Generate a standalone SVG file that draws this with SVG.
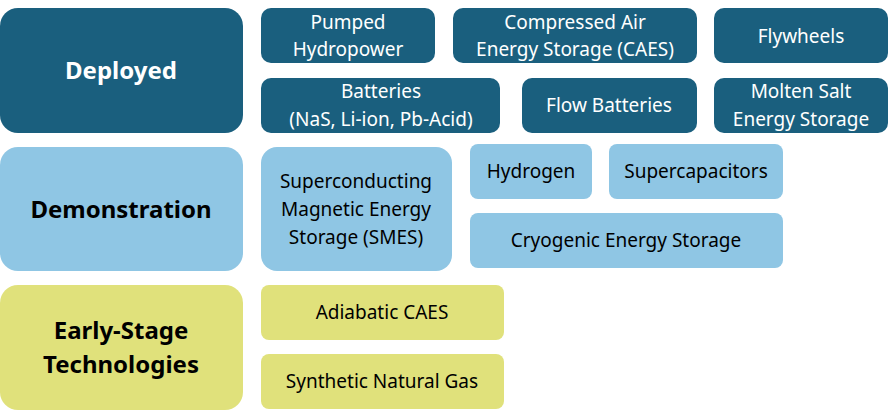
<svg xmlns="http://www.w3.org/2000/svg" width="889" height="411" viewBox="0 0 889 411">
<style>
.d{fill:#1a5f7e}.m{fill:#8fc6e4}.e{fill:#e0e17b}
text{font-family:"Noto Sans","Liberation Sans",sans-serif;font-size:19px;text-anchor:middle}
.w{fill:#fff}.k{fill:#000}
.b{font-size:24px;font-weight:bold}
</style>
<g id="deployed"><rect class="d" x="0" y="8" width="243" height="125" rx="18"/><text class="w b" x="121" y="79">Deployed</text></g>
<g id="demonstration"><rect class="m" x="0" y="147" width="243" height="124" rx="18"/><text class="k b" x="121" y="218">Demonstration</text></g>
<g id="early"><rect class="e" x="0" y="285" width="243" height="125" rx="18"/><text class="k b" x="121" y="339">Early-Stage</text><text class="k b" x="121" y="373">Technologies</text></g>
<g id="pumped"><rect class="d" x="261" y="8" width="174" height="55" rx="10"/><text class="w" x="348" y="29">Pumped</text><text class="w" x="348" y="56">Hydropower</text></g>
<g id="caes"><rect class="d" x="453" y="8" width="244" height="55" rx="10"/><text class="w" x="575" y="29">Compressed Air</text><text class="w" x="575" y="56">Energy Storage (CAES)</text></g>
<g id="flywheels"><rect class="d" x="714" y="8" width="174" height="55" rx="10"/><text class="w" x="801" y="43">Flywheels</text></g>
<g id="batteries"><rect class="d" x="261" y="78" width="239" height="55" rx="10"/><text class="w" x="381" y="98">Batteries</text><text class="w" x="381" y="126">(NaS, Li-ion, Pb-Acid)</text></g>
<g id="flow"><rect class="d" x="522" y="78" width="175" height="55" rx="10"/><text class="w" x="609" y="112">Flow Batteries</text></g>
<g id="molten"><rect class="d" x="714" y="78" width="174" height="55" rx="10"/><text class="w" x="801" y="98">Molten Salt</text><text class="w" x="801" y="126">Energy Storage</text></g>
<g id="smes"><rect class="m" x="261" y="147" width="191" height="124" rx="16"/><text class="k" x="356" y="188">Superconducting</text><text class="k" x="356" y="216">Magnetic Energy</text><text class="k" x="356" y="244">Storage (SMES)</text></g>
<g id="hydrogen"><rect class="m" x="470" y="144" width="122" height="55" rx="8"/><text class="k" x="531" y="178">Hydrogen</text></g>
<g id="supercap"><rect class="m" x="609" y="144" width="174" height="55" rx="8"/><text class="k" x="696" y="178">Supercapacitors</text></g>
<g id="cryogenic"><rect class="m" x="470" y="213" width="313" height="55" rx="8"/><text class="k" x="626" y="247">Cryogenic Energy Storage</text></g>
<g id="adiabatic"><rect class="e" x="261" y="285" width="243" height="55" rx="8"/><text class="k" x="382" y="319">Adiabatic CAES</text></g>
<g id="sng"><rect class="e" x="261" y="354" width="243" height="55" rx="8"/><text class="k" x="382" y="388">Synthetic Natural Gas</text></g>
<g id="connectors"></g>
</svg>
